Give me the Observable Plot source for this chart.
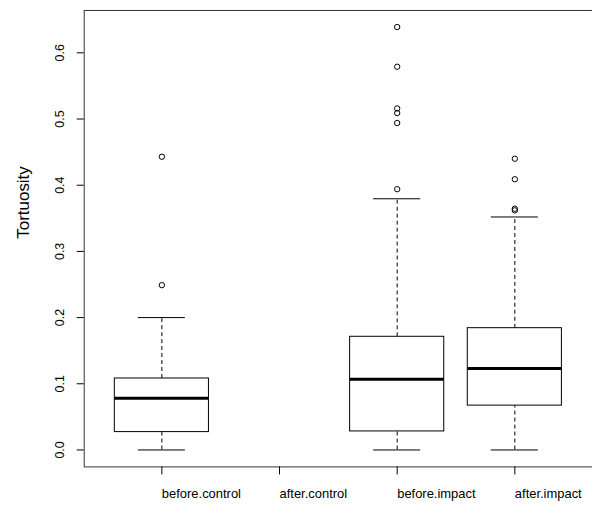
<!DOCTYPE html>
<html><head><meta charset="utf-8">
<script src="https://cdn.jsdelivr.net/npm/d3@7"></script>
<script src="https://cdn.jsdelivr.net/npm/@observablehq/plot@0.6"></script>
<style>body{margin:0;overflow:hidden;background:white}</style>
</head><body><div id="chart"></div>
<script>
const groups = ["before.control", "after.control", "before.impact", "after.impact"];
const lows = [0, null, 0, 0];
const q1s = [0.027, null, 0.028, 0.067];
const medians = [0.078, null, 0.107, 0.123];
const q3s = [0.108, null, 0.171, 0.184];
const highs = [0.2, null, 0.3795, 0.352];
const outliers = [
  [0.249, 0.443],
  [],
  [0.394, 0.494, 0.509, 0.516, 0.579, 0.639],
  [0.362, 0.3645, 0.409, 0.440]
];

const boxes = groups.map((g, i) => ({
  pos: i + 1, lo: lows[i], q1: q1s[i], med: medians[i], q3: q3s[i], hi: highs[i]
})).filter(d => d.med != null);
const pts = outliers.flatMap((o, i) => o.map(v => ({pos: i + 1, v})));

const chart = Plot.plot({
  width: 594, height: 507,
  marginLeft: 84, marginRight: 0, marginTop: 10, marginBottom: 39,
  style: {"font-family": "Liberation Sans, Arial, sans-serif", "font-size": "13px", color: "black"},
  x: {domain: [0.34, 4.66], axis: null},
  y: {domain: [-0.0256, 0.664], axis: null},
  marks: [
    Plot.frame({stroke: "#333"}),
    Plot.ruleX(boxes, {x: "pos", y1: "q3", y2: "hi", strokeDasharray: "4,3", stroke: "black"}),
    Plot.ruleX(boxes, {x: "pos", y1: "lo", y2: "q1", strokeDasharray: "4,3", stroke: "black"}),
    Plot.ruleY(boxes, {y: "hi", x1: d => d.pos - 0.2, x2: d => d.pos + 0.2, stroke: "black"}),
    Plot.ruleY(boxes, {y: "lo", x1: d => d.pos - 0.2, x2: d => d.pos + 0.2, stroke: "black"}),
    Plot.rect(boxes, {x1: d => d.pos - 0.4, x2: d => d.pos + 0.4, y1: "q1", y2: "q3", fill: "white", stroke: "black"}),
    Plot.ruleY(boxes, {y: "med", x1: d => d.pos - 0.4, x2: d => d.pos + 0.4, stroke: "black", strokeWidth: 3}),
    Plot.dot(pts, {x: "pos", y: "v", r: 2.7, stroke: "black", fill: "none", strokeWidth: 1}),
    Plot.axisY({ticks: [0, 0.1, 0.2, 0.3, 0.4, 0.5, 0.6], tickFormat: d3.format(".1f"),
      tickSize: 7, tickPadding: 13, tickRotate: -90, label: null, anchor: "left", textAnchor: "middle", fontSize: 12.5}),
    Plot.axisX({ticks: [1, 2, 3, 4], tickFormat: d => groups[d - 1], tickSize: 8,
      tickPadding: 14, textAnchor: "start", label: null, anchor: "bottom"}),
    Plot.text(["Tortuosity"], {frameAnchor: "left", dx: -61, rotate: -90, fontSize: 17})
  ]
});
document.getElementById("chart").append(chart);
</script></body></html>
